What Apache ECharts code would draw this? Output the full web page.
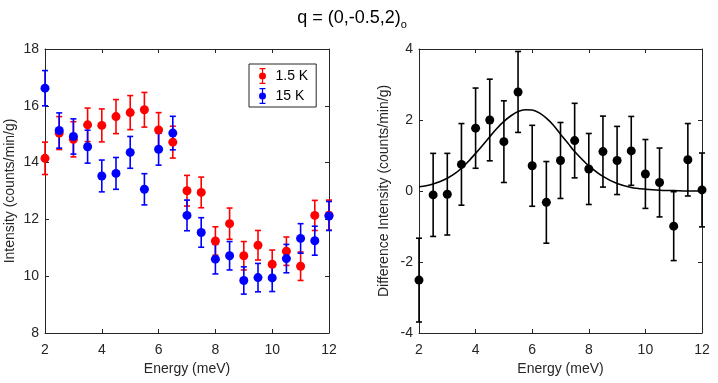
<!DOCTYPE html>
<html>
<head>
<meta charset="utf-8">
<script src="https://cdn.jsdelivr.net/npm/echarts@6/dist/echarts.min.js"></script>
<style>
  html,body{margin:0;padding:0;background:#fff;}
  #chart{width:718px;height:383px;}
</style>
</head>
<body>
<div id="chart"></div>
<script>
// energy transfer points (meV)
const energy = [2, 2.5, 3, 3.5, 4, 4.5, 5, 5.5, 6, 6.5, 7, 7.5, 8, 8.5, 9, 9.5, 10, 10.5, 11, 11.5, 12];

// 1.5 K intensity and error
const int1p5 = [14.15, 15.04, 14.82, 15.33, 15.31, 15.62, 15.76, 15.86, 15.15, 14.72, 13.01, 12.95, 11.24, 11.85, 10.72, 11.09, 10.42, 10.88, 10.35, 12.14, 12.15];
const err1p5 = [0.57, 0.58, 0.62, 0.59, 0.58, 0.6, 0.6, 0.61, 0.61, 0.56, 0.54, 0.54, 0.5, 0.55, 0.5, 0.52, 0.5, 0.5, 0.5, 0.53, 0.53];

// 15 K intensity and error
const int15 = [16.62, 15.13, 14.92, 14.56, 13.53, 13.62, 14.36, 13.06, 14.47, 15.04, 12.14, 11.54, 10.6, 10.72, 9.85, 9.95, 9.94, 10.62, 11.33, 11.25, 12.12];
const err15 = [0.62, 0.62, 0.62, 0.58, 0.56, 0.56, 0.56, 0.55, 0.56, 0.59, 0.54, 0.52, 0.52, 0.5, 0.48, 0.5, 0.48, 0.5, 0.52, 0.51, 0.51];

// difference (1.5 K - 15 K) and error
const diffVal = [-2.51, -0.11, -0.09, 0.75, 1.77, 2.0, 1.39, 2.79, 0.71, -0.32, 0.86, 1.42, 0.62, 1.11, 0.86, 1.13, 0.48, 0.24, -0.99, 0.88, 0.03];
const diffErr = [1.18, 1.17, 1.15, 1.15, 1.13, 1.15, 1.15, 1.14, 1.14, 1.15, 1.07, 1.05, 1.0, 1.0, 0.96, 0.97, 0.97, 0.97, 0.97, 1.02, 1.04];

// fitted curve
const fitX = [2, 2.25, 2.5, 2.75, 3, 3.25, 3.5, 3.75, 4, 4.25, 4.5, 4.75, 5, 5.25, 5.5, 5.75, 6, 6.25, 6.5, 6.75, 7, 7.25, 7.5, 7.75, 8, 8.5, 9, 9.5, 10, 10.5, 11, 11.5, 12];
const fitY = [0.12, 0.15, 0.2, 0.27, 0.36, 0.48, 0.64, 0.84, 1.06, 1.29, 1.53, 1.76, 1.96, 2.12, 2.24, 2.29, 2.28, 2.2, 2.05, 1.85, 1.6, 1.36, 1.11, 0.9, 0.71, 0.41, 0.21, 0.1, 0.05, 0.02, 0.01, 0, 0];

const RED = '#ff0000', BLUE = '#0000ff', BLACK = '#000000';
const TXT = '#262626';
const FONT = 'Liberation Sans, Arial, sans-serif';

const errIcon = 'path://M2 0H8V1.2H2Z M4.4 0H5.6V16H4.4Z M2 14.8H8V16H2Z M1.5 8A3.5 3.5 0 1 1 8.5 8A3.5 3.5 0 1 1 1.5 8Z';

function errData(vals, errs){
    return energy.map((e,i)=>[e, vals[i]-errs[i], vals[i]+errs[i]]);
}

function errSeries(name, color, xi, yi, data){
    return {
        name:name,
        type:'custom',
        xAxisIndex:xi,
        yAxisIndex:yi,
        data:data,
        renderItem:function(params, api){
            const x=api.value(0);
            const lo=api.coord([x, api.value(1)]);
            const hi=api.coord([x, api.value(2)]);
            const cap=3;
            const st={stroke:color, lineWidth:1.6};
            return {
                type:'group',
                children:[
                    {type:'line', shape:{x1:lo[0],y1:lo[1],x2:hi[0],y2:hi[1]}, style:st},
                    {type:'line', shape:{x1:lo[0]-cap,y1:lo[1],x2:lo[0]+cap,y2:lo[1]}, style:st},
                    {type:'line', shape:{x1:hi[0]-cap,y1:hi[1],x2:hi[0]+cap,y2:hi[1]}, style:st}
                ]
            };
        }
    };
}

function dotSeries(name, color, xi, yi, vals){
    return {
        name:name,
        type:'scatter',
        xAxisIndex:xi,
        yAxisIndex:yi,
        symbol:'circle',
        symbolSize:9,
        itemStyle:{color:color, opacity:1},
        data:energy.map((e,i)=>[e, vals[i]])
    };
}

function xAx(grid, pos, showLabel, name){
    return {
        type:'value', gridIndex:grid, position:pos,
        min:2, max:12, interval:2,
        splitLine:{show:false},
        axisLine:{show:true, onZero:false, lineStyle:{color:TXT, width:1}},
        axisTick:{show:true, inside:true, length:4, lineStyle:{color:TXT}},
        axisLabel:{show:showLabel, color:TXT, fontSize:14, fontFamily:FONT, margin:10},
        name:name, nameLocation:'middle', nameGap:28,
        nameTextStyle:{color:TXT, fontSize:14, fontFamily:FONT}
    };
}

function yAx(grid, pos, showLabel, min, max, name, gap){
    return {
        type:'value', gridIndex:grid, position:pos,
        min:min, max:max, interval:2,
        splitLine:{show:false},
        axisLine:{show:true, onZero:false, lineStyle:{color:TXT, width:1}},
        axisTick:{show:true, inside:true, length:4, lineStyle:{color:TXT}},
        axisLabel:{show:showLabel, color:TXT, fontSize:14, fontFamily:FONT, margin:6},
        name:name, nameLocation:'middle', nameGap:gap,
        nameTextStyle:{color:TXT, fontSize:14, fontFamily:FONT}
    };
}

const chart=echarts.init(document.getElementById('chart'), null, {renderer:'canvas'});

const option={
    animation:false,
    backgroundColor:'#ffffff',
    title:{
        text:'{m|q = (0,-0.5,2)}{s|o}',
        left:347, top:2, textAlign:'center',
        textStyle:{
            rich:{
                m:{fontSize:18, color:BLACK, fontFamily:FONT, fontWeight:'normal'},
                s:{fontSize:11, color:BLACK, fontFamily:FONT, fontWeight:'normal', padding:[12,0,0,0]}
            }
        }
    },
    legend:{
        left:249, top:64, orient:'vertical',
        padding:[4,8,3,10],
        itemGap:4,
        itemWidth:10, itemHeight:16,
        borderColor:TXT, borderWidth:1, backgroundColor:'#fff',
        textStyle:{fontSize:14, fontFamily:FONT, color:BLACK, padding:[0,0,0,3]},
        data:[{name:'1.5 K', icon:errIcon, itemStyle:{color:RED}},
              {name:'15 K', icon:errIcon, itemStyle:{color:BLUE}}]
    },
    grid:[
        {left:45, top:49, width:284, height:284},
        {left:419, top:49, width:283, height:284}
    ],
    xAxis:[
        xAx(0,'bottom',true,'Energy (meV)'),
        xAx(0,'top',false,''),
        xAx(1,'bottom',true,'Energy (meV)'),
        xAx(1,'top',false,'')
    ],
    yAxis:[
        yAx(0,'left',true,8,18,'Intensity (counts/min/g)',28),
        yAx(0,'right',false,8,18,'',0),
        yAx(1,'left',true,-4,4,'Difference Intensity (counts/min/g)',28),
        yAx(1,'right',false,-4,4,'',0)
    ],
    series:[
        errSeries('1.5 K', RED, 0, 0, errData(int1p5, err1p5)),
        dotSeries('1.5 K', RED, 0, 0, int1p5),
        errSeries('15 K', BLUE, 0, 0, errData(int15, err15)),
        dotSeries('15 K', BLUE, 0, 0, int15),
        {
            name:'fit', type:'line', xAxisIndex:2, yAxisIndex:2,
            smooth:0.3, showSymbol:false, symbol:'none',
            lineStyle:{color:BLACK, width:1.6},
            data:fitX.map((x,i)=>[x, fitY[i]])
        },
        errSeries('diff', BLACK, 2, 2, errData(diffVal, diffErr)),
        dotSeries('diff', BLACK, 2, 2, diffVal)
    ]
};

chart.setOption(option);
</script>
</body>
</html>
